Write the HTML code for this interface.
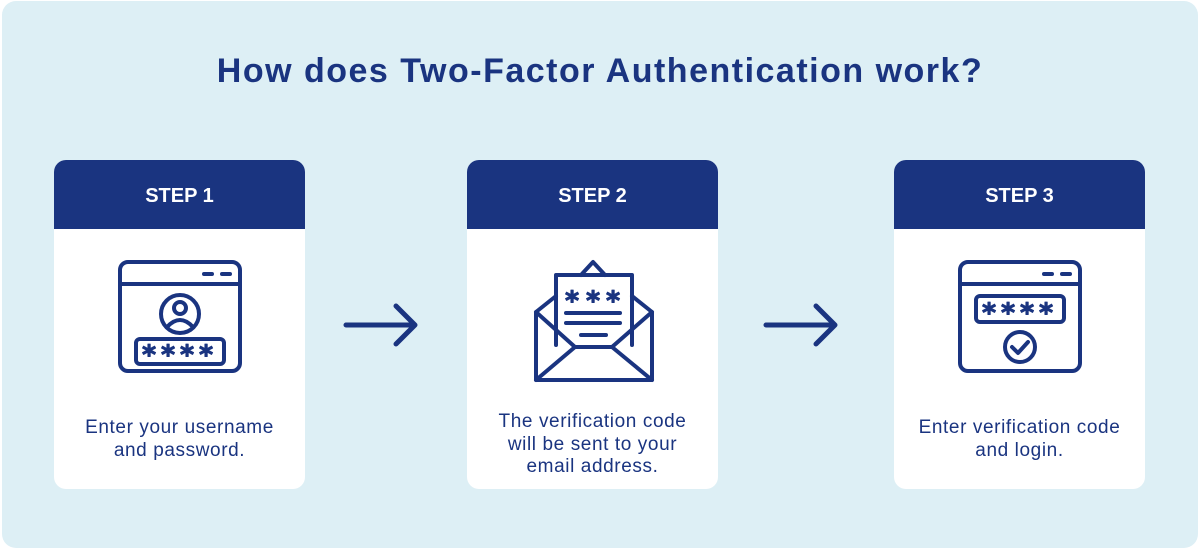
<!DOCTYPE html>
<html><head><meta charset="utf-8"><style>
body{margin:0;width:1200px;height:550px;background:#fff;position:relative;overflow:hidden;font-family:"Liberation Sans",sans-serif}
.bg{position:absolute;left:2px;top:1px;width:1196px;height:547px;background:#ddeff5;border-radius:14px}
h1{position:absolute;left:0;width:1200px;top:52px;margin:0;text-align:center;font-size:34px;font-weight:bold;color:#1a3480;letter-spacing:1.5px}
.card{position:absolute;top:160px;width:251px;height:329px;background:#fff;border-radius:12px;overflow:hidden}
.hd{height:69px;background:#1a3480;color:#fff;font-weight:bold;font-size:20px;text-align:center;line-height:72px}
.t{position:absolute;left:-10px;width:271px;text-align:center;color:#1a3480;font-size:19px;letter-spacing:0.6px;line-height:22.5px}
svg{position:absolute;left:0;top:0}
</style></head><body>
<div class="bg"></div>
<h1>How does Two-Factor Authentication work?</h1>
<div class="card" style="left:54px"><div class="hd">STEP 1</div><div class="t" style="top:257px">Enter your username<br>and password.</div></div>
<div class="card" style="left:467px"><div class="hd">STEP 2</div><div class="t" style="top:251px">The verification code<br>will be sent to your<br>email address.</div></div>
<div class="card" style="left:894px"><div class="hd">STEP 3</div><div class="t" style="top:257px">Enter verification code<br>and login.</div></div>
<svg width="1200" height="550" fill="none" stroke="#1a3480" stroke-width="4" stroke-linecap="round" stroke-linejoin="round">
<rect x="120" y="262" width="120" height="109" rx="8"/>
<line x1="120" y1="284" x2="240" y2="284"/>
<line x1="204" y1="274" x2="212" y2="274"/><line x1="222" y1="274" x2="230" y2="274"/>
<circle cx="180" cy="314" r="19"/>
<circle cx="180" cy="308" r="6"/>
<path d="M167 327 Q180 313 193 327"/>
<rect x="136" y="339" width="88" height="25" rx="4"/>
<g font-size="27" font-weight="bold" fill="#1a3480" stroke="#1a3480" stroke-width="1" font-family="DejaVu Sans" text-anchor="middle">
<text x="149" y="364">*</text><text x="168" y="364">*</text><text x="187" y="364">*</text><text x="206" y="364">*</text>
<text x="572" y="310">*</text><text x="593" y="310">*</text><text x="613" y="310">*</text>
<text x="989" y="322">*</text><text x="1008" y="322">*</text><text x="1027" y="322">*</text><text x="1046" y="322">*</text>
</g>
<path d="M581 275 L593 262 L605 275"/>
<path d="M556 345 L556 275 L632 275 L632 345"/>
<path d="M556 296 L536 312 L536 380 L652 380 L652 312 L632 296"/>
<path d="M536 312 L575 347 L612 347 L652 312"/>
<path d="M536 380 L575 347 M652 380 L612 347"/>
<line x1="566" y1="313" x2="620" y2="313"/><line x1="566" y1="323" x2="620" y2="323"/><line x1="581" y1="335" x2="606" y2="335"/>
<rect x="960" y="262" width="120" height="109" rx="8"/>
<line x1="960" y1="284" x2="1080" y2="284"/>
<line x1="1044" y1="274" x2="1052" y2="274"/><line x1="1062" y1="274" x2="1070" y2="274"/>
<rect x="976" y="296" width="88" height="26" rx="4"/>
<circle cx="1020" cy="347" r="15"/>
<path d="M1012 347 L1018 353 L1028 342"/>
<path d="M346 325 L413 325 M396 306 L415 325 L396 344" stroke-width="5"/>
<path d="M766 325 L833 325 M816 306 L835 325 L816 344" stroke-width="5"/>
</svg>
</body></html>
